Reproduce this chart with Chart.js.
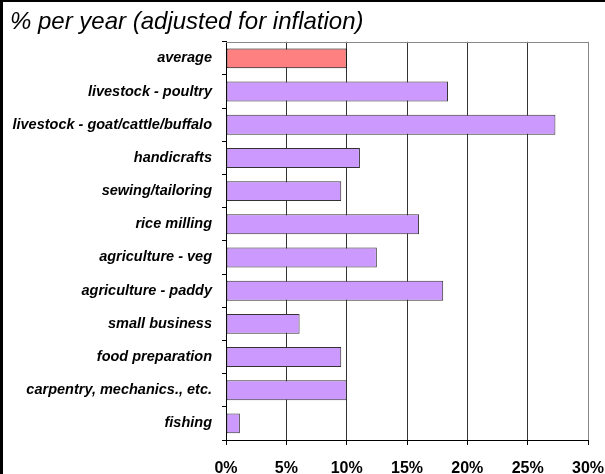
<!DOCTYPE html>
<html>
<head>
<meta charset="utf-8">
<script src="https://cdn.jsdelivr.net/npm/chart.js@4"></script>
<style>
  body { margin: 0; background: #fff; }
  #wrap { width: 605px; height: 474px; position: relative; }
</style>
</head>
<body>
<div id="wrap"><canvas id="chart" width="605" height="474"></canvas></div>
<script>
// categorias de cima para baixo
const categories = [
  'average',
  'livestock - poultry',
  'livestock - goat/cattle/buffalo',
  'handicrafts',
  'sewing/tailoring',
  'rice milling',
  'agriculture - veg',
  'agriculture - paddy',
  'small business',
  'food preparation',
  'carpentry, mechanics., etc.',
  'fishing'
];
// % por ano (ajustado pela inflação)
const returns = [10, 18.4, 27.3, 11.1, 9.55, 16, 12.5, 18, 6.1, 9.55, 10, 1.15];
const xTicks = [0, 5, 10, 15, 20, 25, 30];

const purple = '#CC99FF';
const red = '#FF8080';
const font = 'Liberation Sans, Arial, sans-serif';

// moldura preta + borda superior cinza da area do grafico
const framePlugin = {
  id: 'frame',
  afterDatasetsDraw(chart) {
    const { ctx, chartArea } = chart;
    ctx.save();
    ctx.strokeStyle = '#888';
    ctx.lineWidth = 1;
    ctx.beginPath();
    ctx.moveTo(chartArea.left, Math.round(chartArea.top) + 0.5);
    ctx.lineTo(chartArea.right, Math.round(chartArea.top) + 0.5);
    ctx.stroke();
    ctx.restore();
  },
  afterDraw(chart) {
    const ctx = chart.ctx;
    ctx.save();
    ctx.fillStyle = '#000';
    ctx.fillRect(0, 0, chart.width, 2);
    ctx.fillRect(0, 0, 3, chart.height);
    ctx.restore();
  }
};

new Chart(document.getElementById('chart').getContext('2d'), {
  type: 'bar',
  data: {
    labels: categories,
    datasets: [{
      data: returns,
      backgroundColor: categories.map(c => c === 'average' ? red : purple),
      borderColor: categories.map(c => c === 'average' ? '#000' : '#333'),
      borderWidth: 1,
      borderSkipped: false,
      barPercentage: 0.6,
      categoryPercentage: 1
    }]
  },
  options: {
    indexAxis: 'y',
    responsive: false,
    animation: false,
    layout: { padding: { top: 2, left: 10, right: 17, bottom: 0 } },
    plugins: {
      legend: { display: false },
      tooltip: { enabled: false },
      title: {
        display: true,
        text: '% per year (adjusted for inflation)',
        align: 'start',
        color: '#000',
        font: { family: font, size: 24, style: 'italic', weight: 'normal' },
        padding: { top: 6, bottom: 5 }
      }
    },
    scales: {
      x: {
        min: 0,
        max: 30,
        afterBuildTicks: scale => { scale.ticks = xTicks.map(v => ({ value: v })); },
        afterFit: scale => {
          scale.height = 34;
          scale.paddingLeft = 0;
          scale.paddingRight = 0;
        },
        ticks: {
          callback: v => v + '%',
          color: '#000',
          padding: 14,
          font: { family: font, size: 16, weight: 'bold' }
        },
        grid: {
          color: ctx => (ctx.tick && ctx.tick.value === 30) ? '#888' : '#333',
          tickColor: '#000',
          tickLength: 5
        },
        border: { color: '#000' }
      },
      y: {
        afterFit: scale => { scale.width = 216; },
        ticks: {
          color: '#000',
          padding: 10,
          font: { family: font, size: 14.5, style: 'italic', weight: 'bold' }
        },
        grid: {
          drawOnChartArea: false,
          tickColor: '#000',
          tickLength: 4
        },
        border: { color: '#000' }
      }
    }
  },
  plugins: [framePlugin]
});
</script>
</body>
</html>
